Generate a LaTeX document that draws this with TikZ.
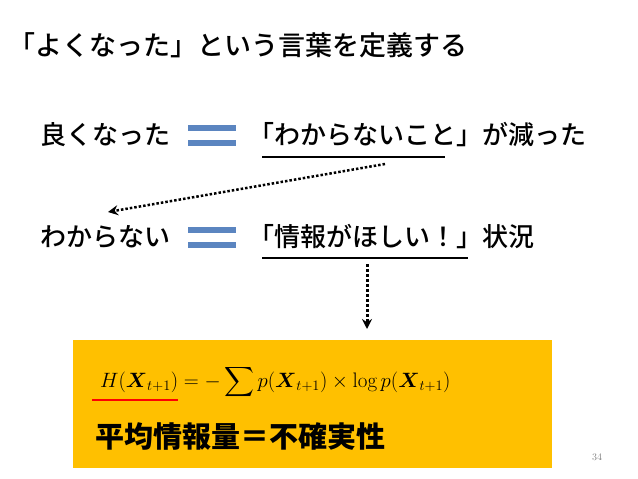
\documentclass[tikz,border=0pt]{standalone}
\usepackage{fontspec}
\usepackage{amsmath}
\newfontfamily\jp{Noto Sans CJK JP}
\newfontfamily\jpm{Noto Sans CJK JP Medium}
\usetikzlibrary{arrows.meta}
\definecolor{eqblue}{HTML}{5B85C0}
\definecolor{boxorange}{HTML}{FFC000}
\tikzset{jt/.style={font=\jpm\fontsize{26}{30}\selectfont, anchor=west, inner sep=0pt},
 eqbar/.style={fill=eqblue, draw=none},
 uline/.style={line width=2pt},
 darrow/.style={dotted, line width=2.5pt, -{Stealth[length=10pt,width=10pt]}}}
\begin{document}
\begin{tikzpicture}[x=1pt,y=-1pt]
\useasboundingbox (0,0) rectangle (638,479);
\node[jt, font=\jpm\fontsize{27}{30}\selectfont] (title) at (8,45) {「よくなった」という言葉を定義する};
\node[jt] (a1) at (40,135) {良くなった};
\fill[eqblue] (188,125) rectangle (236,131);
\fill[eqblue] (188,140) rectangle (236,146);
\node[jt] (b1) at (248,135) {「わからないこと」が減った};
\coordinate (u1s) at (262,157); \coordinate (u1e) at (445,157);
\draw[uline] (u1s) -- (u1e);
\node[jt] (a2) at (40,237) {わからない};
\fill[eqblue] (188,227) rectangle (236,233);
\fill[eqblue] (188,242) rectangle (236,248);
\node[jt] (b2) at (248,237) {「情報がほしい！」状況};
\coordinate (u2s) at (262,258); \coordinate (u2e) at (468,258);
\draw[uline] (u2s) -- (u2e);
\coordinate (p1) at (385,164); \coordinate (p2) at (108,212);
\draw[darrow] (p1) -- (p2);
\coordinate (p3) at (367,264); \coordinate (p4) at (367,329);
\draw[darrow, line width=3pt] (p3) -- (p4);
\node[fill=boxorange, minimum width=479pt, minimum height=128pt, anchor=north west, inner sep=0pt] (box) at (73,340) {};
\node[anchor=west, inner sep=0pt, font=\fontsize{21}{26}\selectfont] (f) at (100,382)
 {$\displaystyle H(\boldsymbol{X}_{t+1}) = -\sum p(\boldsymbol{X}_{t+1}) \times \log p(\boldsymbol{X}_{t+1})$};
\draw[red, line width=2pt] (92,400) -- (178,400);
\node[jt, font=\jp\bfseries\fontsize{29}{32}\selectfont] (h) at (95,436) {平均情報量＝不確実性};
\node[font=\fontsize{10}{12}\selectfont, text=gray] (n) at (597,457) {34};
\end{tikzpicture}
\end{document}
